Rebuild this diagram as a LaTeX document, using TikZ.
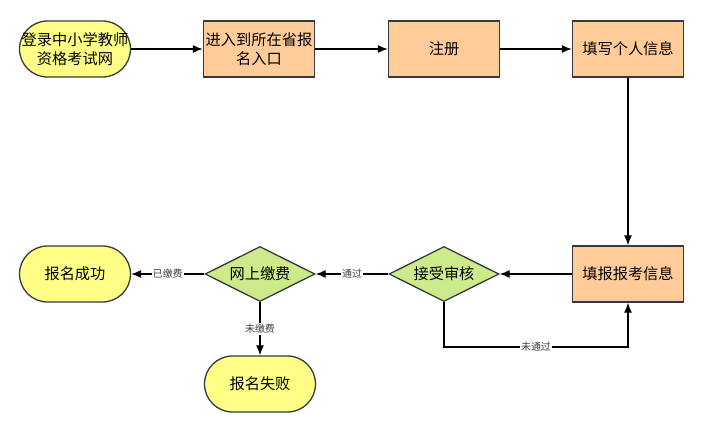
\documentclass[tikz,border=0pt]{standalone}
\usepackage{fontspec}
\setmainfont{Noto Sans CJK SC}
\usetikzlibrary{arrows.meta,shapes.geometric}

\definecolor{boxfill}{HTML}{FFCC99}
\definecolor{endfill}{HTML}{FFFF88}
\definecolor{gatefill}{HTML}{CDEB8B}
\definecolor{edgegray}{HTML}{36393D}

\tikzset{
  stepbox/.style={draw=edgegray,line width=1.1pt,fill=boxfill,minimum width=3.33cm,minimum height=1.68cm,inner sep=1pt,align=center,font=\fontsize{13}{16}\selectfont},
  terminal/.style={stepbox,fill=endfill,rounded corners=0.84cm},
  gate/.style={draw=edgegray,line width=1.1pt,fill=gatefill,diamond,aspect=2,inner sep=-4pt,minimum width=3.3cm,minimum height=1.65cm,font=\fontsize{13}{16}\selectfont},
  flow/.style={line width=1.1pt,-{Latex[length=3mm,width=2.4mm]}},
  tag/.style={fill=white,inner sep=1pt,text=black!75,font=\fontsize{8.5}{10}\selectfont}
}

\begin{document}
\begin{tikzpicture}
  \useasboundingbox (0,0) rectangle (21.09,-12.96);
  \node[terminal] (site) at (2.25,-1.47) {登录中小学教师\\资格考试网};
  \node[stepbox] (entry) at (7.77,-1.47) {进入到所在省报\\名入口};
  \node[stepbox] (register) at (13.32,-1.47) {注册};
  \node[stepbox] (personal) at (18.84,-1.47) {填写个人信息};
  \node[stepbox] (exam) at (18.84,-8.22) {填报报考信息};
  \node[gate] (review) at (13.32,-8.22) {接受审核};
  \node[gate] (pay) at (7.8,-8.22) {网上缴费};
  \node[terminal] (success) at (2.25,-8.22) {报名成功};
  \node[terminal] (fail) at (7.8,-11.52) {报名失败};
  \coordinate (loop) at (13.32,-10.41);
  \draw[flow] (site) -- (entry);
  \draw[flow] (entry) -- (register);
  \draw[flow] (register) -- (personal);
  \draw[flow] (personal) -- (exam);
  \draw[flow] (exam) -- (review);
  \draw[flow] (review) -- node[tag] {通过} (pay);
  \draw[flow] (pay) -- node[tag] {已缴费} (success);
  \draw[flow] (pay) -- node[tag] {未缴费} (fail);
  \draw[flow] (review) -- (loop) -| node[tag,pos=0.25] {未通过} (exam);
\end{tikzpicture}
\end{document}
